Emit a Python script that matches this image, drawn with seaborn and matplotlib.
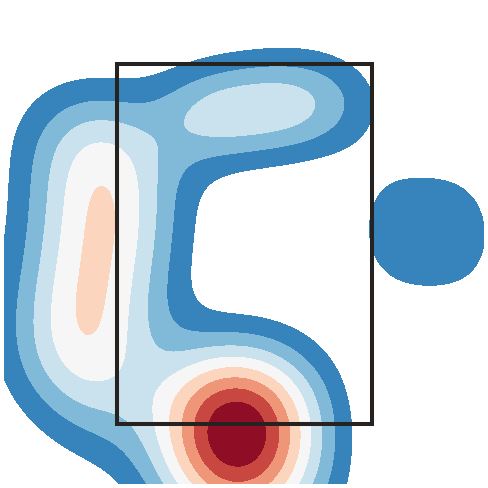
import numpy as np
import pandas as pd
import matplotlib
matplotlib.use("Agg")
import matplotlib.pyplot as plt
from matplotlib.colors import ListedColormap
import seaborn as sns
from seaborn._statistics import KDE

# ---------------- data (positions in plot units, y grows downward) -------------
# left vertical ridge: one row of samples per y, spread sideways
ridge_y = [90, 120, 150, 180, 210, 240, 270, 300, 330, 360, 390, 420, 450, 480]
ridge_cx = [98, 97, 100, 103, 103, 100, 95, 89, 85, 84, 93, 110, 130, 150]
ridge_w = [0.08, 0.65, 0.95, 0.97, 1.0, 1.0, 1.0, 1.0, 1.0, 0.97, 0.72, 0.45, 0.22, 0.1]
ridge_dx = [-90, -60, -30, 0, 30, 60, 90]
ridge_dxw = [0.12, 0.4, 0.8, 1.0, 0.8, 0.4, 0.12]
ridge_scale = 1.02

# upper horizontal ridge
top_x = [150, 180, 210, 240, 270, 300, 330, 360, 390]
top_y = [122, 119, 115, 111, 107, 104, 102, 100, 99]
top_w = [0.17, 1.1, 1.87, 1.92, 1.92, 1.82, 1.32, 0.6, 0.16]

# lower hot spot
hot_x = [148, 178, 208, 238, 268, 298, 328]
hot_xw = [0.12, 0.45, 0.85, 1.0, 0.85, 0.5, 0.2]
hot_y = [340, 370, 400, 430, 460, 490, 520]
hot_yw = [0.08, 0.5, 0.9, 1.0, 0.85, 0.65, 0.35]
hot_scale = 1.97

# small blob on the right
blob_x = [382, 412, 442, 472]
blob_xw = [0.9, 1.0, 1.0, 0.9]
blob_y = [200, 232, 264]
blob_yw = [1.0, 1.0, 1.0]
blob_scale = 0.42

# frame drawn over the density
rect_x, rect_y, rect_w, rect_h = 117, 64, 255, 360

kernel_sd_y = 36.0
n_bands = 9
frame_color = "#252220"

# ---------------- assemble weighted samples ------------------------------------
xs, ys, ws = [], [], []
for y, cx, w in zip(ridge_y, ridge_cx, ridge_w):
    for dx, dw in zip(ridge_dx, ridge_dxw):
        xs.append(cx + dx); ys.append(y); ws.append(ridge_scale * w * dw)
for x, y, w in zip(top_x, top_y, top_w):
    xs.append(x); ys.append(y); ws.append(w)
for y, yw in zip(hot_y, hot_yw):
    for x, xw in zip(hot_x, hot_xw):
        xs.append(x); ys.append(y); ws.append(hot_scale * xw * yw)
for y, yw in zip(blob_y, blob_yw):
    for x, xw in zip(blob_x, blob_xw):
        xs.append(x); ys.append(y); ws.append(blob_scale * xw * yw)
df = pd.DataFrame({"x": np.array(xs, float), "y": np.array(ys, float),
                   "w": np.array(ws, float)})

cov = np.cov(np.vstack([df["x"], df["y"]]), aweights=df["w"])
bw = float(kernel_sd_y / np.sqrt(cov[1, 1]))
clip = ((4, 484), (4, 484))
gridsize = 160

# iso-proportions that correspond to evenly spaced density levels
kde = KDE(bw_method=bw, gridsize=gridsize, cut=3, clip=clip)
dens, _ = kde(df["x"], df["y"], weights=df["w"])
vals = np.ravel(dens)
lin_levels = np.arange(1, n_bands + 1) / n_bands * vals.max()
props = [float(np.clip(1 - vals[vals >= L].sum() / vals.sum(), 0, 1)) for L in lin_levels]
props[-1] = 1.0

rdbu = sns.color_palette("RdBu_r", as_cmap=True)
band_cmap = ListedColormap([rdbu((k + 0.5) / n_bands) for k in range(1, n_bands)])

# ---------------- draw ---------------------------------------------------------
sns.set_style("white")
fig = plt.figure(figsize=(4.88, 4.88), dpi=100)
ax = fig.add_axes([0, 0, 1, 1])
sns.kdeplot(data=df, x="x", y="y", weights="w", bw_method=bw, gridsize=gridsize,
            cut=3, clip=clip, fill=True, levels=props, cmap=band_cmap,
            antialiased=False, ax=ax)
ax.add_patch(plt.Rectangle((rect_x, rect_y), rect_w, rect_h, fill=False,
                           edgecolor=frame_color, linewidth=2.9, zorder=5))
ax.set_xlim(0, 488)
ax.set_ylim(488, 0)
ax.set_axis_off()
fig.savefig("out.png", dpi=100)
